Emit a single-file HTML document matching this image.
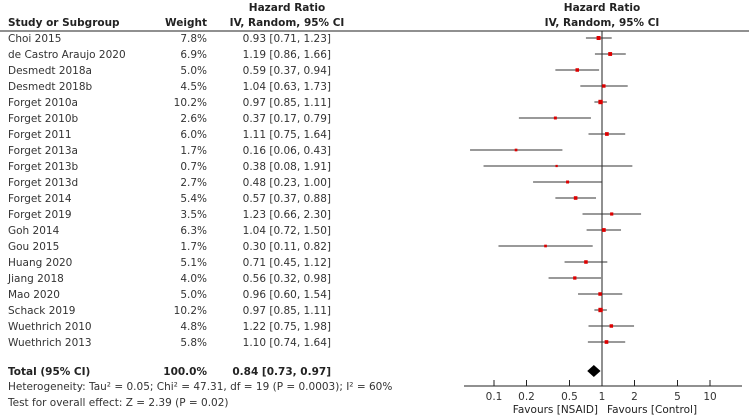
<!DOCTYPE html>
<html><head><meta charset="utf-8"><style>
body{margin:0;background:#fff;}
svg{display:block;font-family:"DejaVu Sans","Liberation Sans",sans-serif;}
</style></head><body>
<svg id="c" width="749" height="417" font-size="10.5">
<g font-weight="bold" fill="#222">
<text x="8" y="26">Study or Subgroup</text>
<text x="207" y="26" text-anchor="end">Weight</text>
<text x="287" y="11" text-anchor="middle">Hazard Ratio</text>
<text x="287" y="26" text-anchor="middle">IV, Random, 95% CI</text>
<text x="602" y="11" text-anchor="middle">Hazard Ratio</text>
<text x="602" y="26" text-anchor="middle">IV, Random, 95% CI</text>
</g>
<line x1="0" y1="31" x2="749" y2="31" stroke="#222"/>
<g id="rows"></g>
</svg>
<script>
const studies=["Choi 2015","de Castro Araujo 2020","Desmedt 2018a","Desmedt 2018b","Forget 2010a","Forget 2010b","Forget 2011","Forget 2013a","Forget 2013b","Forget 2013d","Forget 2014","Forget 2019","Goh 2014","Gou 2015","Huang 2020","Jiang 2018","Mao 2020","Schack 2019","Wuethrich 2010","Wuethrich 2013"];
const weights=[7.8,6.9,5.0,4.5,10.2,2.6,6.0,1.7,0.7,2.7,5.4,3.5,6.3,1.7,5.1,4.0,5.0,10.2,4.8,5.8];
const hr=[0.93,1.19,0.59,1.04,0.97,0.37,1.11,0.16,0.38,0.48,0.57,1.23,1.04,0.30,0.71,0.56,0.96,0.97,1.22,1.10];
const lo=[0.71,0.86,0.37,0.63,0.85,0.17,0.75,0.06,0.08,0.23,0.37,0.66,0.72,0.11,0.45,0.32,0.60,0.85,0.75,0.74];
const hi=[1.23,1.66,0.94,1.73,1.11,0.79,1.64,0.43,1.91,1.00,0.88,2.30,1.50,0.82,1.12,0.98,1.54,1.11,1.98,1.64];
const total=[0.84,0.73,0.97];
const ticks=[0.1,0.2,0.5,1,2,5,10];
const tickLabels=["0.1","0.2","0.5","1","2","5","10"];
const NS="http://www.w3.org/2000/svg";
const g=document.getElementById('rows');
const X=v=>602+108*Math.log10(v);
const Y=i=>38+16*i;
function el(t,a,txt){const e=document.createElementNS(NS,t);for(const k in a)e.setAttribute(k,a[k]);if(txt!=null)e.textContent=txt;g.appendChild(e);return e;}
const f=v=>v.toFixed(2);
el('line',{x1:602,y1:31,x2:602,y2:386,stroke:'#222'});
studies.forEach((s,i)=>{
 const y=Y(i);
 let e=el('text',{x:8,y:y+4,fill:'#333'},s);
 
 
 e=el('text',{x:207,y:y+4,'text-anchor':'end',fill:'#333'},weights[i].toFixed(1)+'%');
 
 
 e=el('text',{x:331,y:y+4,'text-anchor':'end',fill:'#333'},f(hr[i])+' ['+f(lo[i])+', '+f(hi[i])+']');
 
 
 e=el('line',{x1:Math.max(X(lo[i]),464),x2:Math.min(X(hi[i]),742),y1:y,y2:y,stroke:'#333','stroke-width':1});
 
 
 const sz=1.5+Math.sqrt(weights[i])*0.9;
 e=el('rect',{x:X(hr[i])-sz/2,y:y-sz/2,width:sz,height:sz,fill:'#d00'});
 
 
});
const ty=371;
let e=el('text',{x:8,y:ty+4,'font-weight':'bold',fill:'#222'},'Total (95% CI)');

e=el('text',{x:207,y:ty+4,'text-anchor':'end','font-weight':'bold',fill:'#222'},'100.0%');

e=el('text',{x:331,y:ty+4,'text-anchor':'end','font-weight':'bold',fill:'#222'},f(total[0])+' ['+f(total[1])+', '+f(total[2])+']');

e=el('polygon',{points:`${X(total[1])},${ty} ${X(total[0])},${ty-6} ${X(total[2])},${ty} ${X(total[0])},${ty+6}`,fill:'#000'});

e=el('text',{x:8,y:390,fill:'#333'},'Heterogeneity: Tau² = 0.05; Chi² = 47.31, df = 19 (P = 0.0003); I² = 60%');

e=el('text',{x:8,y:406,fill:'#333'},'Test for overall effect: Z = 2.39 (P = 0.02)');

e=el('line',{x1:464,x2:742,y1:386,y2:386,stroke:'#222'});

ticks.forEach((t,i)=>{
 let a=el('line',{x1:X(t),x2:X(t),y1:380,y2:386,stroke:'#222'});
 
 a=el('text',{x:X(t),y:400,'text-anchor':'middle',fill:'#333'},tickLabels[i]);
 
});
e=el('text',{x:598,y:413,'text-anchor':'end',fill:'#222'},'Favours [NSAID]');

e=el('text',{x:607,y:413,fill:'#222'},'Favours [Control]');

</script>
</body></html>
